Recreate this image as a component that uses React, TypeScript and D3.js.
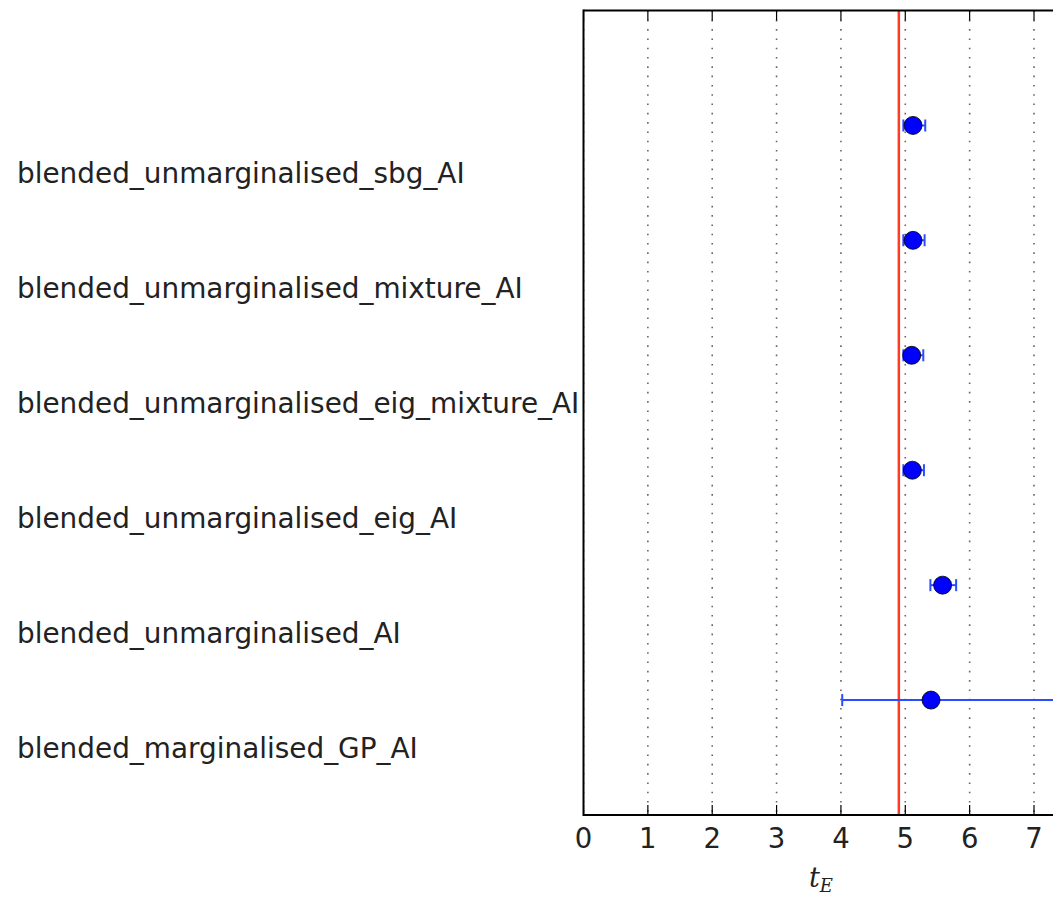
import React from "react";
import * as d3 from "d3";

const categories = [
  "blended_marginalised_GP_AI",
  "blended_unmarginalised_AI",
  "blended_unmarginalised_eig_AI",
  "blended_unmarginalised_eig_mixture_AI",
  "blended_unmarginalised_mixture_AI",
  "blended_unmarginalised_sbg_AI",
];
const values = [5.4, 5.58, 5.11, 5.1, 5.12, 5.12];
const lowerErr = [1.38, 0.19, 0.14, 0.13, 0.15, 0.15];
const upperErr = [2.2, 0.21, 0.18, 0.18, 0.18, 0.19];
const refValue = 4.9;
const xTicks = [0, 1, 2, 3, 4, 5, 6, 7];

const W = 1053;
const H = 901;
const left = 583.5;
const top = 10.5;
const bottom = 815;

export default function App() {
  const x = d3.scaleLinear().domain([0, 7]).range([left, 1034]);
  const y = d3.scaleLinear().domain([-1, 6]).range([bottom, top]);
  const font = "DejaVu Sans, sans-serif";
  return (
    <svg
      width={W}
      height={H}
      style={{ position: "absolute", left: 0, top: 0, background: "#fff" }}
      fontFamily={font}
    >
      <defs>
        <clipPath id="plot">
          <rect x={left} y={top} width={W - left} height={bottom - top} />
        </clipPath>
      </defs>
      <g clipPath="url(#plot)">
        {xTicks.map((t) => (
          <line
            key={"g" + t}
            x1={x(t)}
            x2={x(t)}
            y1={top}
            y2={bottom}
            stroke="#666"
            strokeWidth={1.6}
            strokeDasharray="1.6,7.7"
          />
        ))}
        <line
          x1={x(refValue)}
          x2={x(refValue)}
          y1={top}
          y2={bottom}
          stroke="#ff3b22"
          strokeWidth={2.5}
        />
        {categories.map((c, i) => {
          const cy = y(i);
          const x0 = x(values[i] - lowerErr[i]);
          const x1 = x(values[i] + upperErr[i]);
          return (
            <g key={c}>
              <line x1={x0} x2={x1} y1={cy} y2={cy} stroke="#2a4dff" strokeWidth={2} />
              <line x1={x0} x2={x0} y1={cy - 6} y2={cy + 6} stroke="#2a4dff" strokeWidth={2} />
              <line x1={x1} x2={x1} y1={cy - 6} y2={cy + 6} stroke="#2a4dff" strokeWidth={2} />
              <circle cx={x(values[i])} cy={cy} r={9} fill="#0000ff" stroke="#000" strokeWidth={0.8} />
            </g>
          );
        })}
        {xTicks.map((t) => (
          <g key={"t" + t}>
            <line x1={x(t)} x2={x(t)} y1={bottom} y2={bottom - 10} stroke="#000" strokeWidth={1.2} />
            <line x1={x(t)} x2={x(t)} y1={top} y2={top + 10} stroke="#000" strokeWidth={1.2} />
          </g>
        ))}
      </g>
      <line x1={left} x2={W} y1={top} y2={top} stroke="#000" strokeWidth={2} />
      <line x1={left} x2={W} y1={bottom} y2={bottom} stroke="#000" strokeWidth={2} />
      <line x1={left} x2={left} y1={top - 1} y2={bottom + 1} stroke="#000" strokeWidth={2} />
      {xTicks.map((t) => (
        <text
          key={"l" + t}
          x={x(t)}
          y={848}
          textAnchor="middle"
          fontSize={27.5}
          fill="#222"
        >
          {t}
        </text>
      ))}
      {categories.map((c, i) => (
        <text
          key={"c" + c}
          x={17}
          y={y(i - 0.42)}
          dominantBaseline="central"
          fontSize={27.9}
          fill="#222"
        >
          {c}
        </text>
      ))}
      <text x={809} y={887} fontFamily="DejaVu Serif, serif" fontStyle="italic" fontSize={27} fill="#222">
        t
        <tspan fontSize={18} dy={5}>E</tspan>
      </text>
    </svg>
  );
}
